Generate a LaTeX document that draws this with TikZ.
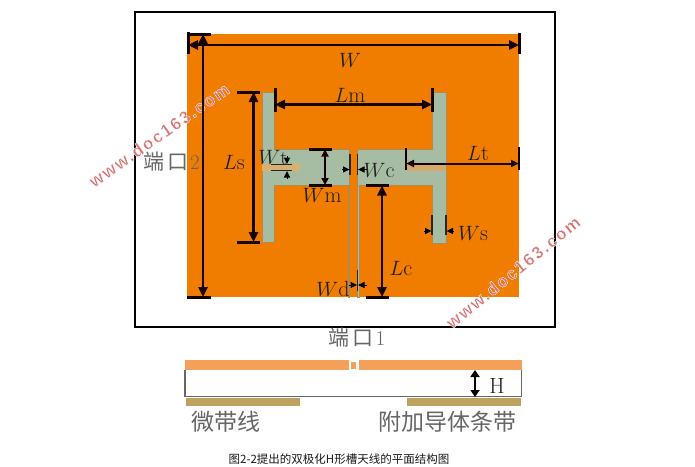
\documentclass[tikz,border=0pt]{standalone}
\usepackage{fontspec}
\usetikzlibrary{arrows.meta}
\newfontfamily\cjk{Noto Sans CJK SC}
\newfontfamily\wmfont[LetterSpace=9]{Liberation Sans Bold}
\definecolor{patch}{HTML}{F07C00}
\definecolor{slotg}{HTML}{A6BDA3}
\definecolor{slotedge}{HTML}{B08A50}
\definecolor{stripc}{HTML}{D8B070}
\definecolor{barc}{HTML}{F4A05A}
\definecolor{tanc}{HTML}{BFA25F}
\definecolor{wmc}{HTML}{D87474}
\tikzset{
  dimline/.style={line width=2.5pt,color=black!92!red},
  dimarr/.style={dimline,{Triangle[length=10pt,width=9pt]}-{Triangle[length=10pt,width=9pt]}},
  smallarr/.style={line width=1pt,color=black,-{Triangle[length=6.5pt,width=6pt]}},
  tick/.style={line width=3pt,color=black!92!red},
  thintick/.style={line width=1.6pt,color=black!85},
  dimlabel/.style={font=\fontsize{22}{22}\selectfont,inner sep=0pt,color=black!88},
  cnlabel/.style={font=\cjk\fontsize{23}{23}\selectfont,inner sep=0pt,color=black!60},
  portlabel/.style={font=\fontsize{21}{21}\selectfont,inner sep=0pt,color=black!60},
  slotpart/.style={fill=slotg,draw=slotedge,line width=1pt},
  watermark/.style={font=\wmfont\fontsize{17.5}{17.5}\selectfont,color=wmc,inner sep=0pt}
}
\begin{document}
\begin{tikzpicture}[x=1pt,y=-1pt]
\useasboundingbox (0,0) rectangle (695,466);
\fill[white] (0,0) rectangle (695,466);
\draw[black,line width=1.5pt] (135,12) rectangle (555,327);
\fill[patch] (187,34) rectangle (519,297);
% slots
\draw[slotpart] (262,92)--(274,92)--(274,149)--(349.5,149)--(349.5,297)--(348,297)--(348,185)--(274,185)--(274,242)--(262,242)--cycle;
\draw[slotpart] (357,149)--(432,149)--(432,92)--(446,92)--(446,243)--(432,243)--(432,185)--(359,185)--(359,297)--(357,297)--cycle;
\fill[stripc] (262,164) rectangle (300,170.5);
\fill[stripc!85!slotedge] (407,164) rectangle (446,170.5);
% watermarks
\node[watermark,rotate=35] (wm1) at (159,135) {\special{pdf:code q 2 Tr 0.35 w 1 1 1 RG}www.doc163.com\special{pdf:code Q}};
\node[watermark,rotate=39] (wm2) at (513,272) {\special{pdf:code q 2 Tr 0.35 w 1 1 1 RG}www.doc163.com\special{pdf:code Q}};
% W
\coordinate (wa) at (188,45); \coordinate (wb) at (519,45);
\draw[tick] (188,32)--(188,54); \draw[tick] (519,33)--(519,54);
\draw[dimarr] (wa)--(wb);
\node[dimlabel] (lw) at (350,60) {$W$};
% port 2 height
\coordinate (pa) at (203,34); \coordinate (pb) at (203,297);
\draw[tick] (187,34)--(211,34); \draw[tick] (187,297)--(211,297);
\draw[dimarr] (pa)--(pb);
\node[portlabel,anchor=east] (p2) at (200,162) {{\cjk 端\hspace{3pt}口}\hspace{2pt}2};
% Ls
\coordinate (lsa) at (253.5,92); \coordinate (lsb) at (253.5,242);
\draw[tick] (237,92)--(260,92); \draw[tick] (237,242)--(260,242);
\draw[dimarr] (lsa)--(lsb);
\node[dimlabel] (lls) at (234,162) {$L\mathrm{s}$};
% Lm
\coordinate (lma) at (275,104.5); \coordinate (lmb) at (432,104.5);
\draw[tick] (275,88)--(275,112); \draw[tick] (432,88)--(432,112);
\draw[dimarr] (lma)--(lmb);
\node[dimlabel] (llm) at (350,95) {$L\mathrm{m}$};
% Wt
\draw[thintick] (271,164.5)--(292,164.5); \draw[thintick] (271,170.5)--(292,170.5);
\coordinate (wta) at (287,156); \coordinate (wtb) at (287,164);
\coordinate (wtc) at (287,179); \coordinate (wtd) at (287,171);
\draw[smallarr] (wta)--(wtb); \draw[smallarr] (wtc)--(wtd);
\node[dimlabel,font=\fontsize{20}{20}\selectfont] (lwt) at (273,157) {$W\mathrm{t}$};
% Wm
\coordinate (wma) at (325,149.5); \coordinate (wmb) at (325,185);
\draw[tick] (309,149.5)--(332,149.5); \draw[tick] (309,185)--(332,185);
\draw[dimarr,line width=1.8pt,{Triangle[length=7pt,width=7pt]}-{Triangle[length=7pt,width=7pt]}] (wma)--(wmb);
\node[dimlabel] (lwm) at (322,195) {$W\mathrm{m}$};
% Wc
\draw[thintick] (350,154)--(350,175); \draw[thintick] (357.5,154)--(357.5,175);
\coordinate (wca) at (342,169.5); \coordinate (wcb) at (349.5,169.5);
\coordinate (wcc) at (367,169.5); \coordinate (wcd) at (358,169.5);
\draw[smallarr] (wca)--(wcb); \draw[smallarr] (wcc)--(wcd);
\node[dimlabel] (lwc) at (379,170) {$W\mathrm{c}$};
% Lt
\coordinate (lta) at (406,163.5); \coordinate (ltb) at (519,163.5);
\draw[tick,line width=2.4pt] (406,148)--(406,170); \draw[tick,line width=2.4pt] (519,147)--(519,170);
\draw[dimarr,line width=2pt,{Triangle[length=8pt,width=7pt]}-{Triangle[length=8pt,width=7pt]}] (lta)--(ltb);
\node[dimlabel] (llt) at (478,153) {$L\mathrm{t}$};
% Lc
\coordinate (lca) at (382,185.5); \coordinate (lcb) at (382,297);
\draw[tick] (366,185.5)--(389,185.5); \draw[tick] (366,297)--(389,297);
\draw[dimarr] (lca)--(lcb);
\node[dimlabel] (llc) at (401,268) {$L\mathrm{c}$};
% Ws
\draw[thintick] (432,215)--(432,235); \draw[thintick] (446,215)--(446,235);
\coordinate (wsa) at (424,231); \coordinate (wsb) at (431.5,231);
\coordinate (wsc) at (454,231); \coordinate (wsd) at (446.5,231);
\draw[smallarr] (wsa)--(wsb); \draw[smallarr] (wsc)--(wsd);
\node[dimlabel] (lws) at (473,233) {$W\mathrm{s}$};
% Wd
\draw[thintick] (357.5,270)--(357.5,291);
\coordinate (wda) at (349,285); \coordinate (wdb) at (357,285);
\coordinate (wdc) at (367,285); \coordinate (wdd) at (358,285);
\draw[smallarr] (wda)--(wdb); \draw[smallarr] (wdc)--(wdd);
\node[dimlabel] (lwd) at (333,289) {$W\mathrm{d}$};
% port 1
\node[portlabel] (p1) at (357,338) {{\cjk 端\hspace{3pt}口}\hspace{2pt}1};
% cross-section
\fill[barc] (185,360) rectangle (522,370);
\fill[white] (348.5,360) rectangle (359,370);
\fill[barc] (350.5,362) rectangle (356,369);
\draw[black!60,line width=1.1pt] (185,370)--(185,396.5)--(521.5,396.5)--(521.5,370);
\fill[tanc] (186,398) rectangle (300,406);
\fill[tanc] (407,398) rectangle (521,406);
\coordinate (ha) at (475,370); \coordinate (hb) at (475,397);
\draw[line width=2.4pt,{Triangle[length=7pt,width=9pt]}-{Triangle[length=7pt,width=9pt]}] (ha)--(hb);
\node[dimlabel] (lh) at (497,386) {H};
\node[cnlabel] (ms) at (226,422) {微带线};
\node[cnlabel] (st) at (447,422) {附加导体条带};
\node[inner sep=0pt,font=\cjk\fontsize{11.5}{12}\selectfont,color=black!90] (cap) at (339,459) {图2-2提出的双极化H形槽天线的平面结构图};
\end{tikzpicture}
\end{document}
